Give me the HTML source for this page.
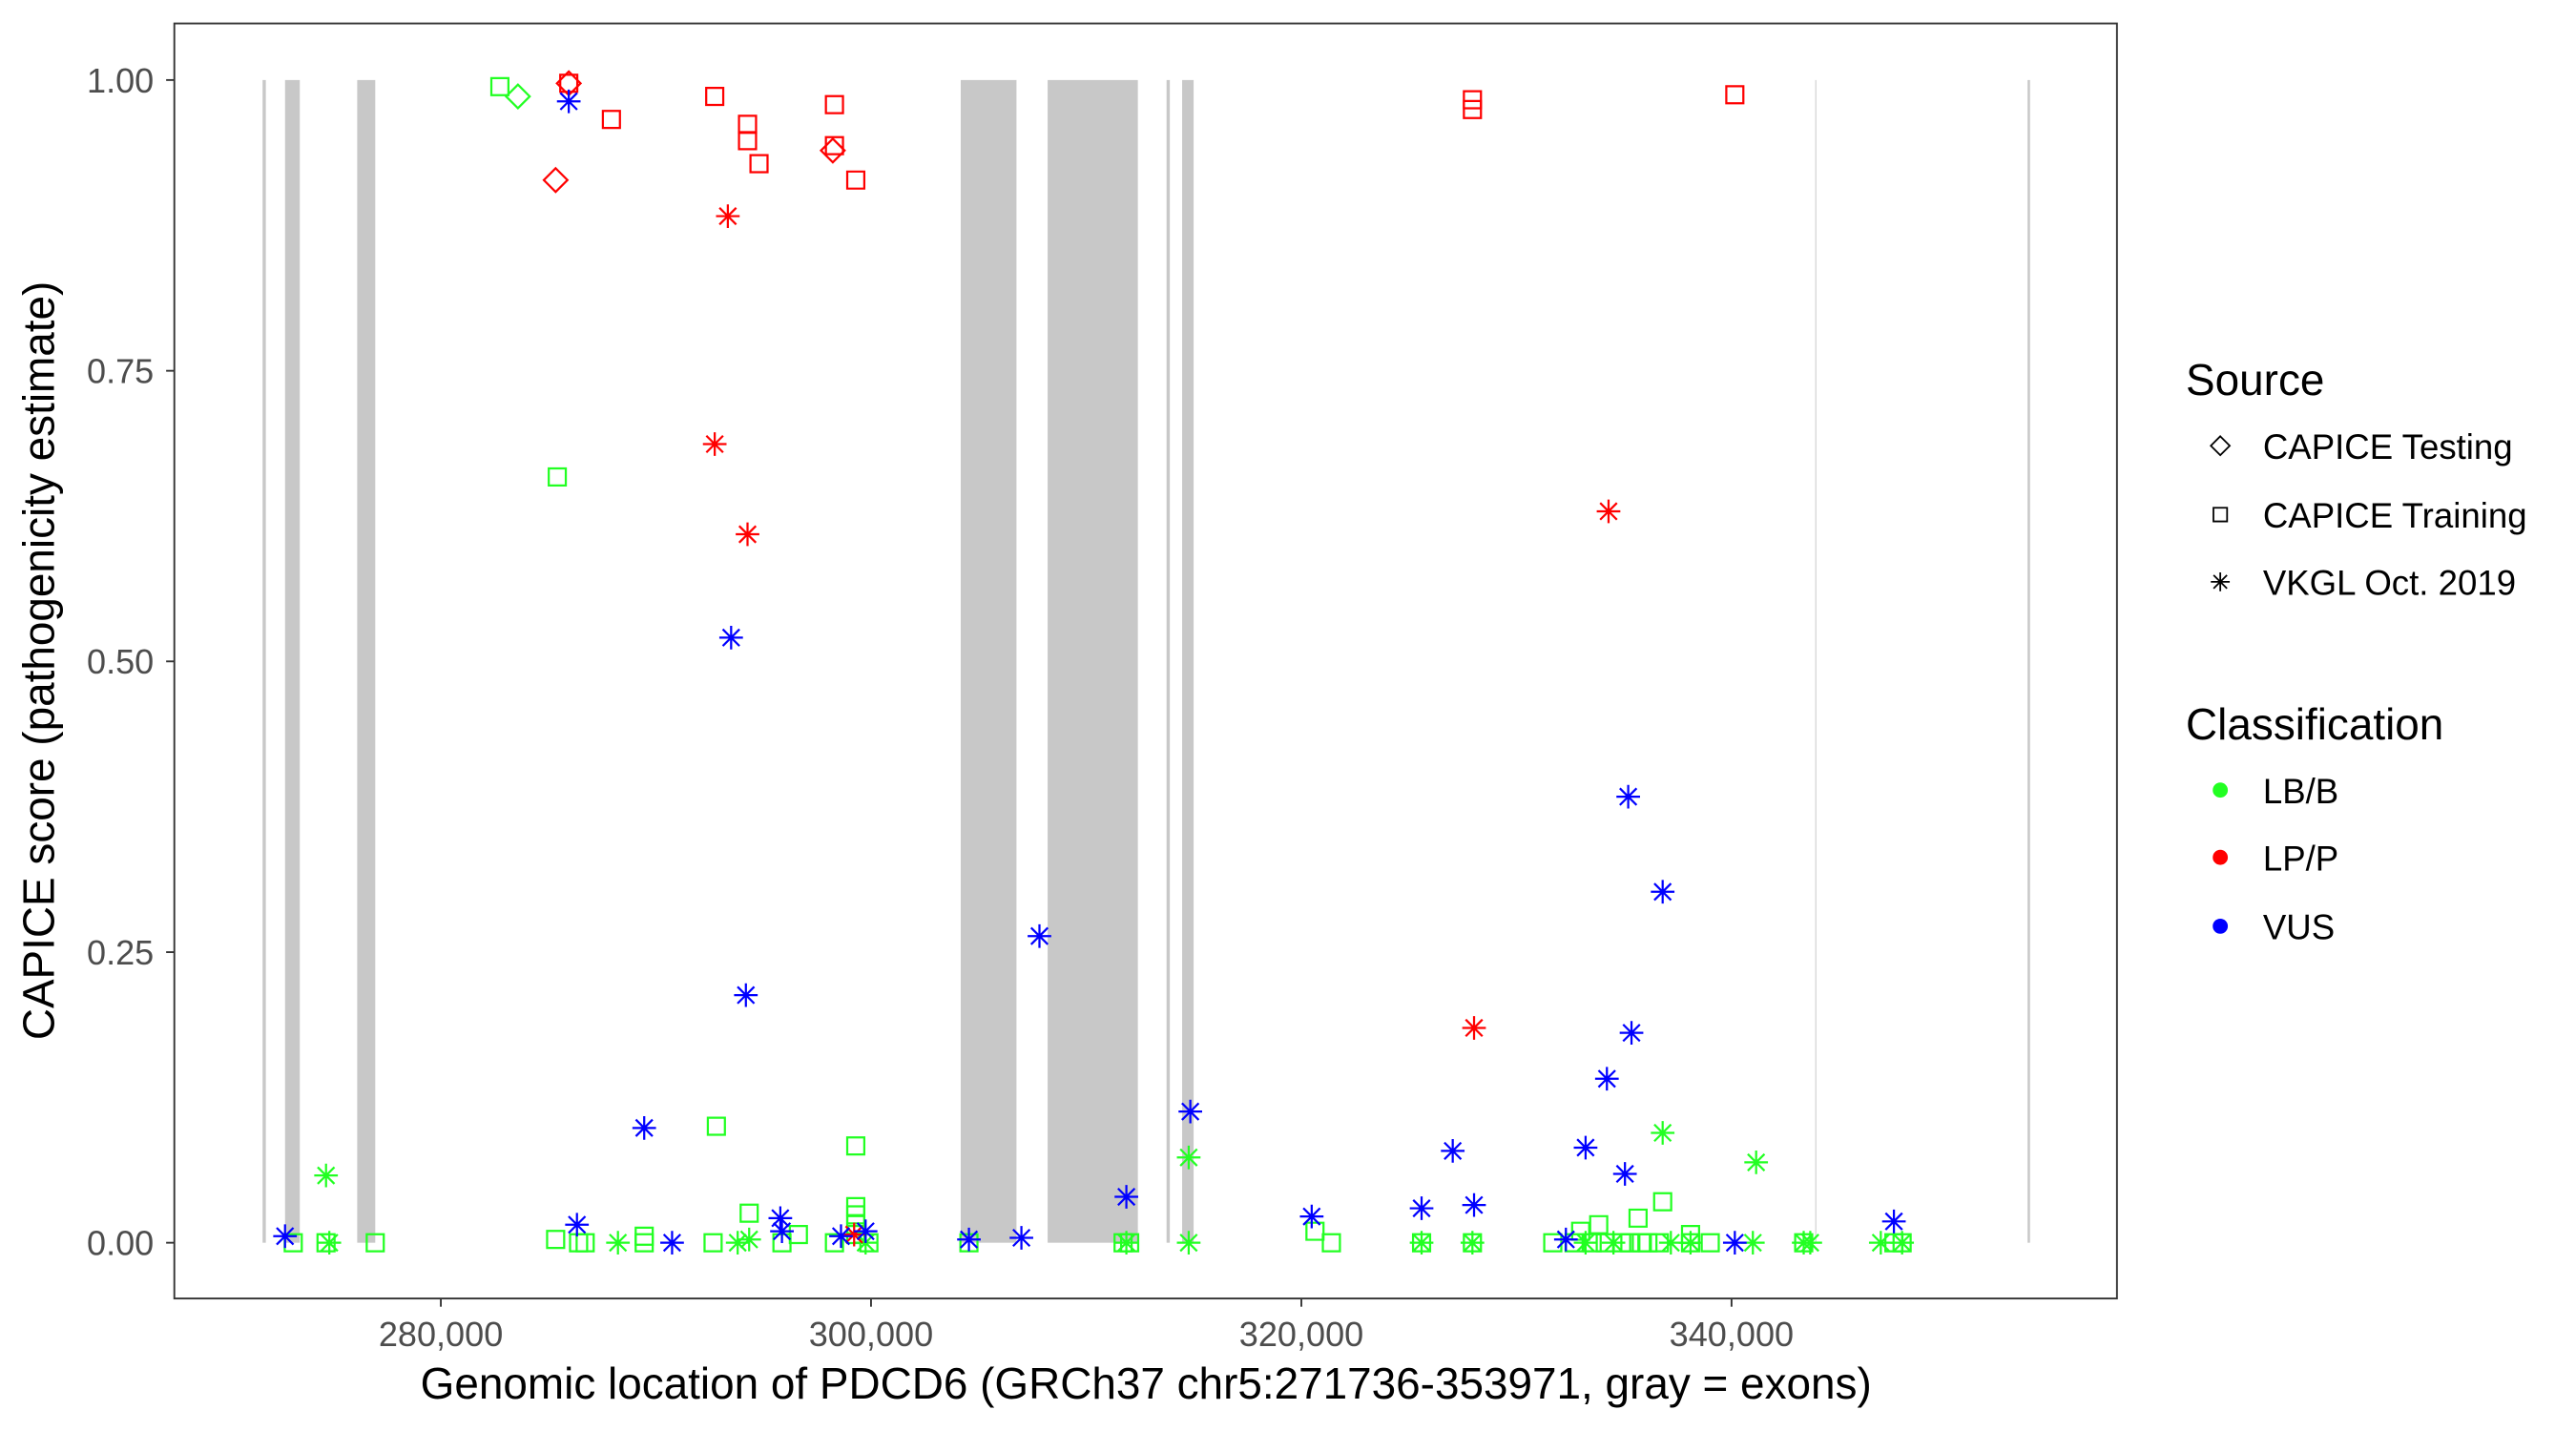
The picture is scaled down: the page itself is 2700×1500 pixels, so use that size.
<!DOCTYPE html>
<html><head><meta charset="utf-8"><style>
html,body{margin:0;padding:0;background:#fff;}
svg{display:block;}
text{font-family:"Liberation Sans",Arial,sans-serif;}
</style></head><body>
<svg width="2700" height="1500" viewBox="-0.8 -0.8 1570.7 872.6" preserveAspectRatio="none" xmlns="http://www.w3.org/2000/svg">
<defs>
<path id="sq" d="M-5.2,-5.2H5.2V5.2H-5.2Z" fill="none" stroke-width="1.3"/>
<path id="di" d="M0,-7.2L7.2,0L0,7.2L-7.2,0Z" fill="none" stroke-width="1.3"/>
<path id="as" d="M0,-7.2V7.2M-7.2,0H7.2M-5.1,-5.1L5.1,5.1M-5.1,5.1L5.1,-5.1" fill="none" stroke-width="1.3"/>
</defs>
<rect x="-1" y="-1" width="1580" height="880" fill="#fff"/>
<g fill="#c8c8c8">
<rect x="159.3" y="48" width="2" height="709"/>
<rect x="173" y="48" width="9" height="709"/>
<rect x="217" y="48" width="11" height="709"/>
<rect x="585" y="48" width="34" height="709"/>
<rect x="638" y="48" width="55" height="709"/>
<rect x="710.5" y="48" width="2" height="709"/>
<rect x="720" y="48" width="7" height="709"/>
<rect x="1106" y="48" width="0.8" height="709" fill="#d8d8d8"/>
<rect x="1235.5" y="48" width="1.5" height="709"/>
</g>
<g stroke="#22ff22">
<use href="#sq" x="304" y="52"/><use href="#di" x="315" y="58"/>
<use href="#sq" x="339" y="290"/>
<use href="#sq" x="436" y="686"/><use href="#sq" x="521" y="698"/>
<use href="#as" x="198" y="716"/><use href="#as" x="724" y="705"/>
<use href="#sq" x="521" y="735"/><use href="#sq" x="521" y="740"/><use href="#sq" x="456" y="739"/><use href="#sq" x="521" y="746"/>
<use href="#as" x="1013" y="690"/><use href="#as" x="1070" y="708"/>
<use href="#sq" x="801" y="750"/><use href="#sq" x="1013" y="732"/><use href="#sq" x="998" y="742"/><use href="#sq" x="974" y="746"/><use href="#sq" x="963" y="750"/>
<use href="#sq" x="178" y="757"/><use href="#sq" x="198" y="757"/><use href="#as" x="200" y="757"/><use href="#sq" x="228" y="757"/>
<use href="#sq" x="338" y="755"/><use href="#sq" x="352" y="757"/><use href="#sq" x="356" y="757"/><use href="#as" x="376" y="757"/>
<use href="#sq" x="392" y="753"/><use href="#sq" x="392" y="757"/><use href="#sq" x="434" y="757"/><use href="#as" x="449" y="757"/><use href="#as" x="456" y="755"/>
<use href="#sq" x="476" y="757"/><use href="#sq" x="486" y="752"/><use href="#sq" x="508" y="757"/><use href="#as" x="527" y="757"/><use href="#sq" x="529" y="757"/><use href="#sq" x="521" y="752"/>
<use href="#sq" x="590" y="757"/><use href="#sq" x="684" y="757"/><use href="#sq" x="688" y="757"/><use href="#as" x="686" y="757"/><use href="#as" x="724" y="757"/>
<use href="#sq" x="811" y="757"/><use href="#as" x="866" y="757"/><use href="#sq" x="866" y="757"/><use href="#as" x="897" y="757"/><use href="#sq" x="897" y="757"/>
<use href="#sq" x="946" y="757"/><use href="#sq" x="959" y="757"/><use href="#as" x="966" y="757"/><use href="#sq" x="970" y="757"/><use href="#sq" x="978" y="757"/><use href="#as" x="983" y="757"/><use href="#sq" x="988" y="757"/><use href="#sq" x="993" y="757"/><use href="#sq" x="1000" y="757"/><use href="#sq" x="1004" y="757"/><use href="#sq" x="1011" y="757"/><use href="#as" x="1018" y="757"/><use href="#sq" x="1030" y="757"/><use href="#as" x="1030" y="757"/><use href="#sq" x="1030" y="752"/><use href="#sq" x="1042" y="757"/><use href="#as" x="1068" y="757"/>
<use href="#sq" x="1099" y="757"/><use href="#as" x="1099" y="757"/><use href="#as" x="1103" y="757"/><use href="#as" x="1146" y="757"/><use href="#sq" x="1154" y="757"/><use href="#sq" x="1159" y="757"/><use href="#as" x="1159" y="757"/>
</g>
<g stroke="#ff0000">
<use href="#di" x="346" y="50"/><use href="#sq" x="346" y="50"/>
<use href="#sq" x="372" y="72"/><use href="#di" x="338" y="109"/>
<use href="#sq" x="435" y="58"/><use href="#sq" x="455" y="75"/><use href="#sq" x="455" y="85"/><use href="#sq" x="462" y="99"/>
<use href="#sq" x="508" y="63"/><use href="#sq" x="508" y="88"/><use href="#di" x="507" y="91"/><use href="#sq" x="521" y="109"/>
<use href="#as" x="443" y="131"/><use href="#as" x="435" y="270"/><use href="#as" x="455" y="325"/>
<use href="#sq" x="897" y="60"/><use href="#sq" x="897" y="66"/><use href="#sq" x="1057" y="57"/>
<use href="#as" x="980" y="311"/><use href="#as" x="898" y="626"/><use href="#as" x="520" y="752"/>
</g>
<g stroke="#0000ff">
<use href="#as" x="346" y="61"/><use href="#as" x="445" y="388"/><use href="#as" x="454" y="606"/><use href="#as" x="633" y="570"/>
<use href="#as" x="992" y="485"/><use href="#as" x="1013" y="543"/><use href="#as" x="994" y="629"/><use href="#as" x="979" y="657"/>
<use href="#as" x="392" y="687"/><use href="#as" x="725" y="677"/><use href="#as" x="686" y="729"/>
<use href="#as" x="475" y="742"/><use href="#as" x="351" y="746"/><use href="#as" x="476" y="750"/>
<use href="#as" x="885" y="701"/><use href="#as" x="966" y="699"/><use href="#as" x="990" y="715"/><use href="#as" x="866" y="736"/><use href="#as" x="898" y="734"/><use href="#as" x="799" y="741"/><use href="#as" x="1154" y="744"/>
<use href="#as" x="173" y="753"/><use href="#as" x="409" y="757"/><use href="#as" x="512" y="753"/><use href="#as" x="527" y="750"/>
<use href="#as" x="590" y="755"/><use href="#as" x="622" y="754"/><use href="#as" x="954" y="755"/><use href="#as" x="1057" y="757"/>
</g>
<rect x="105.5" y="13.5" width="1184.5" height="777.5" fill="none" stroke="#333" stroke-width="1.1"/>
<g stroke="#333" stroke-width="1.1">
<line x1="100.5" x2="105.5" y1="48" y2="48"/><line x1="100.5" x2="105.5" y1="225.3" y2="225.3"/>
<line x1="100.5" x2="105.5" y1="402.5" y2="402.5"/><line x1="100.5" x2="105.5" y1="579.8" y2="579.8"/>
<line x1="100.5" x2="105.5" y1="757" y2="757"/>
<line x1="268" x2="268" y1="791" y2="796"/><line x1="530.3" x2="530.3" y1="791" y2="796"/>
<line x1="792.7" x2="792.7" y1="791" y2="796"/><line x1="1055" x2="1055" y1="791" y2="796"/>
</g>
<g font-size="21" fill="#4d4d4d" text-anchor="end">
<text x="93" y="55.5">1.00</text><text x="93" y="232.8">0.75</text><text x="93" y="410">0.50</text><text x="93" y="587.3">0.25</text><text x="93" y="764.5">0.00</text>
</g>
<g font-size="21" fill="#4d4d4d" text-anchor="middle">
<text x="268" y="820">280,000</text><text x="530.3" y="820">300,000</text><text x="792.7" y="820">320,000</text><text x="1055" y="820">340,000</text>
</g>
<text x="698" y="852" font-size="26.7" text-anchor="middle" fill="#000">Genomic location of PDCD6 (GRCh37 chr5:271736-353971, gray = exons)</text>
<text transform="translate(32,402) rotate(-90)" font-size="26.7" text-anchor="middle" fill="#000">CAPICE score (pathogenicity estimate)</text>
<text x="1332" y="240" font-size="26.7">Source</text>
<g stroke="#000"><use href="#di" x="1353" y="271" transform="translate(1353,271) scale(0.8) translate(-1353,-271)"/><use href="#sq" x="1353" y="313" transform="translate(1353,313) scale(0.8) translate(-1353,-313)"/><use href="#as" x="1353" y="354" transform="translate(1353,354) scale(0.8) translate(-1353,-354)"/></g>
<g font-size="21.3" fill="#000">
<text x="1379" y="279">CAPICE Testing</text><text x="1379" y="321">CAPICE Training</text><text x="1379" y="362">VKGL Oct. 2019</text>
</g>
<text x="1332" y="450" font-size="26.7">Classification</text>
<circle cx="1353" cy="481" r="4.6" fill="#22ff22"/><circle cx="1353" cy="522" r="4.6" fill="#ff0000"/><circle cx="1353" cy="564" r="4.6" fill="#0000ff"/>
<g font-size="21.3" fill="#000">
<text x="1379" y="489">LB/B</text><text x="1379" y="530">LP/P</text><text x="1379" y="572">VUS</text>
</g>
</svg>
</body></html>
